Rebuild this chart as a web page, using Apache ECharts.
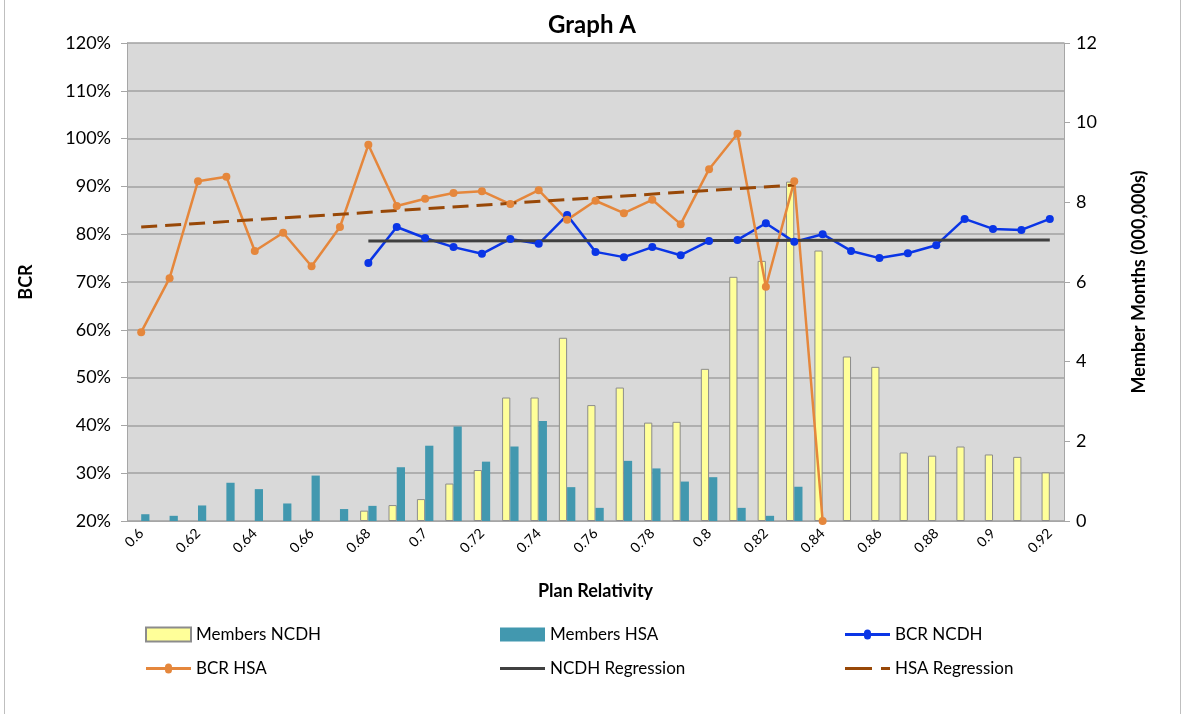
<!DOCTYPE html>
<html>
<head>
<meta charset="utf-8">
<script src="https://cdn.jsdelivr.net/npm/echarts@6/dist/echarts.min.js"></script>
<style>
  html, body { margin: 0; padding: 0; background: #fff; overflow: hidden; }
  #frame { position: absolute; left: 4px; top: -3px; width: 1175px; height: 718px; border: 1px solid #bfbfbf; }
  #main { position: absolute; left: 0; top: 0; width: 1184px; height: 714px; }
</style>
</head>
<body>
<div id="frame"></div>
<div id="main"></div>
<script>
var myChart = echarts.init(document.getElementById('main'));
var font = 'Lato, "Liberation Sans", sans-serif';

// Plan relativity categories
var categories = ['0.6','0.61','0.62','0.63','0.64','0.65','0.66','0.67','0.68','0.69','0.7',
  '0.71','0.72','0.73','0.74','0.75','0.76','0.77','0.78','0.79','0.8','0.81','0.82','0.83',
  '0.84','0.85','0.86','0.87','0.88','0.89','0.9','0.91','0.92'];

// member months (000,000s)
var membersNCDH = [null,null,null,null,null,null,null,null,0.26,0.40,0.55,0.94,1.28,3.10,3.10,4.60,
  2.91,3.35,2.47,2.49,3.82,6.13,6.53,8.52,6.79,4.13,3.87,1.72,1.64,1.87,1.67,1.61,1.22];
var membersHSA = [0.17,0.13,0.39,0.96,0.80,0.44,1.14,0.30,0.38,1.35,1.89,2.37,1.49,1.87,2.51,0.85,
  0.33,1.51,1.32,0.99,1.10,0.33,0.13,0.86,null,null,null,null,null,null,null,null,null];

// BCR %
var bcrNCDH = [null,null,null,null,null,null,null,null,74.0,81.5,79.2,77.3,75.9,79.0,78.0,84.0,
  76.3,75.2,77.3,75.6,78.6,78.8,82.3,78.4,80.0,76.5,75.0,76.0,77.7,83.2,81.1,80.9,83.2];
var bcrHSA = [59.5,70.8,91.1,92.0,76.5,80.3,73.3,81.5,98.7,85.9,87.4,88.6,89.0,86.3,89.2,83.0,
  87.0,84.4,87.2,82.1,93.6,101.0,69.0,91.1,20.0,null,null,null,null,null,null,null,null];

// regression end points
var ncdhRegression = [null,null,null,null,null,null,null,null,78.6,null,null,null,null,null,null,null,
  null,null,null,null,null,null,null,null,null,null,null,null,null,null,null,null,78.8];
var hsaRegression = [81.5,null,null,null,null,null,null,null,null,null,null,null,null,null,null,null,
  null,null,null,null,null,null,null,90.3,null,null,null,null,null,null,null,null,null];

// legend icons
var iconMarkerLine = 'path://M0,5.5 L19,5.5 A3.5,3.5 0 0 1 26,5.5 L45,5.5 L45,8.5 L26,8.5 A3.5,3.5 0 0 1 19,8.5 L0,8.5 Z';
var iconLine = 'path://M0,5.5 L45,5.5 L45,8.5 L0,8.5 Z';
var iconDash = 'path://M0,5.5 L27,5.5 L27,8.5 L0,8.5 Z M36,5.5 L45,5.5 L45,8.5 L36,8.5 Z';

function legendCol(left, names) {
  return {
    orient: 'vertical', left: left, top: 621, itemWidth: 45, itemHeight: 14, itemGap: 17,
    textStyle: { fontFamily: font, fontSize: 17, color: '#000' },
    data: names
  };
}

var option = {
  animation: false,
  backgroundColor: 'transparent',
  title: {
    text: 'Graph A', left: 'center', top: 8,
    textStyle: { fontFamily: font, fontSize: 24, fontWeight: 'bold', color: '#000' }
  },
  legend: [
    legendCol(140, [{ name: 'Members NCDH', icon: 'rect' }, { name: 'BCR HSA', icon: iconMarkerLine }]),
    legendCol(495, [{ name: 'Members HSA', icon: 'rect' }, { name: 'NCDH Regression', icon: iconLine }]),
    legendCol(840, [{ name: 'BCR NCDH', icon: iconMarkerLine }, { name: 'HSA Regression', icon: iconDash }])
  ],
  grid: {
    left: 127, right: 120, top: 43, bottom: 193,
    show: true, backgroundColor: '#D9D9D9', borderWidth: 0
  },
  xAxis: {
    type: 'category',
    data: categories,
    name: 'Plan Relativity', nameLocation: 'middle', nameGap: 61,
    nameTextStyle: { fontFamily: font, fontSize: 18, fontWeight: 'bold', color: '#000' },
    axisLine: { lineStyle: { color: '#a6a6a6' } },
    axisTick: { interval: 0, length: 6, lineStyle: { color: '#a6a6a6' } },
    axisLabel: { interval: 1, rotate: 45, fontFamily: font, fontSize: 14, color: '#000', margin: 10 }
  },
  yAxis: [{
    type: 'value', min: 20, max: 120, interval: 10,
    name: 'BCR', nameLocation: 'middle', nameGap: 92, nameRotate: 90,
    nameTextStyle: { fontFamily: font, fontSize: 18, fontWeight: 'bold', color: '#000' },
    axisLine: { show: true, lineStyle: { color: '#a6a6a6' } },
    axisTick: { show: true, length: 6, lineStyle: { color: '#a6a6a6' } },
    axisLabel: { formatter: '{value}%', fontFamily: font, fontSize: 18, color: '#000', margin: 16 },
    splitLine: { lineStyle: { color: '#a0a0a0', width: 1.5 } }
  }, {
    type: 'value', min: 0, max: 12, interval: 2, position: 'right',
    name: 'Member Months (000,000s)', nameLocation: 'middle', nameGap: 66, nameRotate: 90,
    nameTextStyle: { fontFamily: font, fontSize: 18, fontWeight: 'bold', color: '#000' },
    axisLine: { show: true, lineStyle: { color: '#a6a6a6' } },
    axisTick: { show: true, length: 6, lineStyle: { color: '#a6a6a6' } },
    axisLabel: { fontFamily: font, fontSize: 18, color: '#000', margin: 12 },
    splitLine: { show: false }
  }],
  series: [{
    name: 'Members NCDH', type: 'bar', yAxisIndex: 1, data: membersNCDH,
    barWidth: '29%', barGap: '0%',
    itemStyle: { color: '#FFFF99', borderColor: '#8c8c8c', borderWidth: 1 }
  }, {
    name: 'Members HSA', type: 'bar', yAxisIndex: 1, data: membersHSA,
    barWidth: '29%', barGap: '0%',
    itemStyle: { color: '#4298AF' }
  }, {
    name: 'BCR NCDH', type: 'line', data: bcrNCDH,
    symbol: 'circle', symbolSize: 8,
    itemStyle: { color: '#0A35E6' }, lineStyle: { color: '#0A35E6', width: 2.5 }
  }, {
    name: 'BCR HSA', type: 'line', data: bcrHSA,
    symbol: 'circle', symbolSize: 8,
    itemStyle: { color: '#E5873C' }, lineStyle: { color: '#E5873C', width: 2.5 }
  }, {
    name: 'NCDH Regression', type: 'line', data: ncdhRegression, connectNulls: true,
    showSymbol: false, symbol: 'none',
    itemStyle: { color: '#404040' }, lineStyle: { color: '#404040', width: 3 }
  }, {
    name: 'HSA Regression', type: 'line', data: hsaRegression, connectNulls: true,
    showSymbol: false, symbol: 'none',
    itemStyle: { color: '#984807' }, lineStyle: { color: '#984807', width: 3, type: [16, 8] }
  }]
};

myChart.setOption(option);
</script>
</body>
</html>
